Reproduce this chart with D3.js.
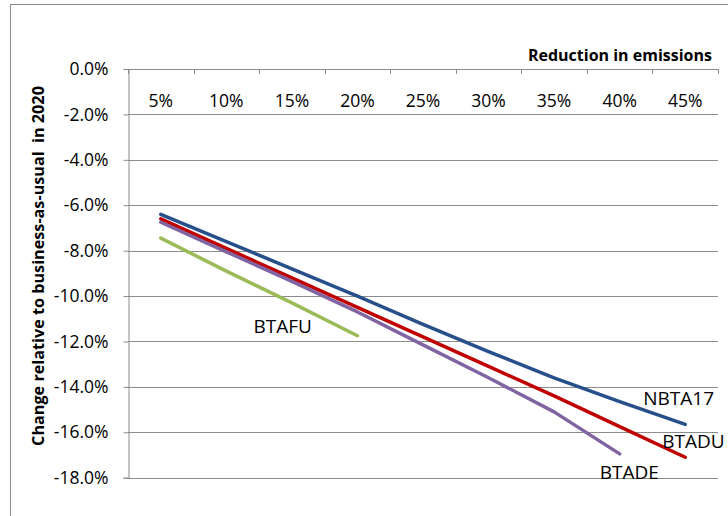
<!DOCTYPE html>
<html>
<head>
<meta charset="utf-8">
<script src="https://cdn.jsdelivr.net/npm/d3@7"></script>
<style>
  body { margin: 0; background: #fff; }
  text { font-family: "Open Sans", sans-serif; }
</style>
</head>
<body>
<div id="chart"></div>
<script>
// categories on the x axis
const reductions = ["5%", "10%", "15%", "20%", "25%", "30%", "35%", "40%", "45%"];
// series values (% change vs business-as-usual)
const nbta17 = [-6.4, -7.6, -8.8, -10.0, -11.25, -12.45, -13.6, -14.65, -15.65];
const btadu = [-6.6, -7.9, -9.2, -10.5, -11.8, -13.1, -14.4, -15.75, -17.1];
const btade = [-6.75, -8.05, -9.35, -10.7, -12.15, -13.6, -15.1, -16.95];
const btafu = [-7.45, -8.9, -10.3, -11.75];
const yTicks = [0, -2, -4, -6, -8, -10, -12, -14, -16, -18];

const series = [
  {name: "NBTA17", values: nbta17, color: "#27508a", dx: -42, dy: -19},
  {name: "BTADU", values: btadu, color: "#c00000", dx: -23, dy: -9},
  {name: "BTADE", values: btade, color: "#8064a2", dx: -20, dy: 25},
  {name: "BTAFU", values: btafu, color: "#9bbb59", dx: -104, dy: -3}
];

const W = 728, H = 516;
const plotLeft = 128, plotRight = 718, plotTop = 69, plotBottom = 477.7;

const svg = d3.select("#chart").append("svg")
  .attr("width", W)
  .attr("height", H);

// chart border
svg.append("rect")
  .attr("x", 10.5).attr("y", 4.5)
  .attr("width", 740).attr("height", 540)
  .attr("fill", "#fff")
  .attr("stroke", "#8c8c8c");

const x = d3.scaleBand()
  .domain(reductions)
  .range([plotLeft, plotRight])
  .padding(0);

const y = d3.scaleLinear()
  .domain([-18, 0])
  .range([plotBottom, plotTop]);

// gridlines
svg.append("g")
  .selectAll("line")
  .data(yTicks.filter(d => d !== 0))
  .enter().append("line")
  .attr("x1", plotLeft).attr("x2", plotRight)
  .attr("y1", d => Math.round(y(d)) + 0.5)
  .attr("y2", d => Math.round(y(d)) + 0.5)
  .attr("stroke", "#8c8c8c");

// y axis
const yAxis = svg.append("g")
  .attr("transform", `translate(${plotLeft + 0.5},0)`)
  .call(d3.axisLeft(y)
    .tickValues(yTicks)
    .tickSize(5)
    .tickPadding(15)
    .tickFormat(d => d3.format(".1f")(d).replace("\u2212", "-") + "%"));
yAxis.select(".domain").attr("stroke", "#8c8c8c");
yAxis.selectAll(".tick line").attr("stroke", "#8c8c8c");
yAxis.selectAll(".tick text")
  .attr("font-size", "17.5px")
  .attr("fill", "#000")
  .style("font-family", "'Open Sans', sans-serif");

// x axis at top: line, boundary ticks, labels below it
const xg = svg.append("g");
xg.append("line")
  .attr("x1", plotLeft).attr("x2", plotRight)
  .attr("y1", plotTop + 0.5).attr("y2", plotTop + 0.5)
  .attr("stroke", "#8c8c8c");
xg.selectAll(".xt")
  .data(reductions.map(d => x(d)).concat([plotRight]))
  .enter().append("line")
  .attr("class", "xt")
  .attr("x1", d => Math.round(d) + 0.5).attr("x2", d => Math.round(d) + 0.5)
  .attr("y1", plotTop).attr("y2", plotTop + 5)
  .attr("stroke", "#8c8c8c");
xg.selectAll(".xl")
  .data(reductions)
  .enter().append("text")
  .attr("class", "xl")
  .attr("x", d => x(d) + x.bandwidth() / 2)
  .attr("y", plotTop + 38)
  .attr("text-anchor", "middle")
  .attr("font-size", "17.5px")
  .text(d => d);

// lines
const line = d3.line()
  .x((d, i) => x(reductions[i]) + x.bandwidth() / 2)
  .y(d => y(d));

svg.selectAll(".series")
  .data(series)
  .enter().append("path")
  .attr("class", "series")
  .attr("d", d => line(d.values))
  .attr("fill", "none")
  .attr("stroke", d => d.color)
  .attr("stroke-width", 3.5)
  .attr("stroke-linecap", "round")
  .attr("stroke-linejoin", "round");

// series labels near line ends
svg.selectAll(".lbl")
  .data(series)
  .enter().append("text")
  .attr("class", "lbl")
  .attr("x", d => x(reductions[d.values.length - 1]) + x.bandwidth() / 2 + d.dx)
  .attr("y", d => y(d.values[d.values.length - 1]) + d.dy)
  .attr("font-size", "19px")
  .text(d => d.name);

// axis titles
svg.append("text")
  .attr("x", 712)
  .attr("y", 61)
  .attr("text-anchor", "end")
  .attr("font-size", "16px")
  .attr("font-weight", "bold")
  .text("Reduction in emissions");

svg.append("text")
  .attr("transform", "translate(44,266) rotate(-90)")
  .attr("text-anchor", "middle")
  .attr("font-size", "16.2px")
  .attr("font-weight", "bold")
  .style("white-space", "pre")
  .text("Change relative to business-as-usual  in 2020");
</script>
</body>
</html>
